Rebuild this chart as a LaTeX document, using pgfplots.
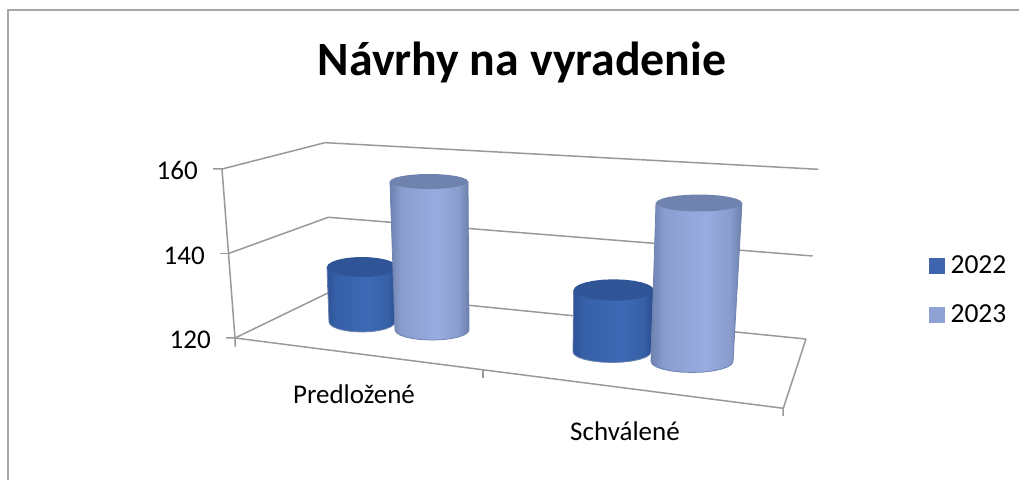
\documentclass[border=0pt]{standalone}
\usepackage{pgfplots}
\usepackage{pgfplotstable}
\usepackage{fontspec}
\setmainfont{Carlito}
\pgfplotsset{compat=1.18}
\definecolor{wall}{HTML}{999999}
\definecolor{framec}{HTML}{A6A6A6}
\definecolor{a0}{HTML}{2E5296}
\definecolor{a1}{HTML}{3660A8}
\definecolor{a2}{HTML}{3E69B5}
\definecolor{a3}{HTML}{355FA6}
\definecolor{a4}{HTML}{2A4C8C}
\definecolor{b0}{HTML}{6E82AF}
\definecolor{b1}{HTML}{8A9DCF}
\definecolor{b2}{HTML}{99ACE0}
\definecolor{b3}{HTML}{8A9DCE}
\definecolor{b4}{HTML}{6C80AC}
\definecolor{topA}{HTML}{2F5597}
\definecolor{topB}{HTML}{6F83AE}
\definecolor{legA}{HTML}{3F65AE}
\definecolor{legB}{HTML}{8FA2D4}
\pgfdeclarehorizontalshading{cylA}{100bp}{color(0bp)=(a0); color(25bp)=(a0); color(31bp)=(a1); color(55bp)=(a2); color(69bp)=(a3); color(75bp)=(a4); color(100bp)=(a4)}
\pgfdeclarehorizontalshading{cylB}{100bp}{color(0bp)=(b0); color(25bp)=(b0); color(32bp)=(b1); color(55bp)=(b2); color(68bp)=(b3); color(75bp)=(b4); color(100bp)=(b4)}

% outline of a cylinder wall: t=1 on the upper end, t=0 on the lower end
\pgfplotstableread{
u w t
-1 0 1
-1 0 0
-0.9659 -0.2588 0
-0.8660 -0.5 0
-0.7071 -0.7071 0
-0.5 -0.8660 0
-0.2588 -0.9659 0
0 -1 0
0.2588 -0.9659 0
0.5 -0.8660 0
0.7071 -0.7071 0
0.8660 -0.5 0
0.9659 -0.2588 0
1 0 0
1 0 1
}\cylbody
% outline of the upper end
\pgfplotstableread{
u w
-1 0
-0.9659 -0.2588
-0.8660 -0.5
-0.7071 -0.7071
-0.5 -0.8660
-0.2588 -0.9659
0 -1
0.2588 -0.9659
0.5 -0.8660
0.7071 -0.7071
0.8660 -0.5
0.9659 -0.2588
1 0
0.9659 0.2588
0.8660 0.5
0.7071 0.7071
0.5 0.8660
0.2588 0.9659
0 1
-0.2588 0.9659
-0.5 0.8660
-0.7071 0.7071
-0.8660 0.5
-0.9659 0.2588
-1 0
}\cyltop

% #1 shading #2 top colour; lower end: #3 cx #4 rx #5 y #6 ry; upper end: #7 cx #8 rx #9 value
\newcommand\cyl[9]{%
  \addplot[forget plot,draw=\edgec,line width=0.8bp,shade,shading=#1] table[
    x expr={\thisrow{t}*#7+(1-\thisrow{t})*#3+\thisrow{u}*(\thisrow{t}*#8+(1-\thisrow{t})*#4)},
    y expr={\thisrow{t}*#9+(1-\thisrow{t})*#5+\thisrow{w}*(1-\thisrow{t})*#6}]{\cylbody} -- cycle;
  \addplot[forget plot,draw=none,fill=#2] table[
    x expr={#7+\thisrow{u}*#8},
    y expr={#9+\thisrow{w}*\ryt}]{\cyltop} -- cycle;
}
\newcommand\ryt{2}
\newcommand\edgec{a0}
\newcommand\wl[1]{\addplot[forget plot,wall,line width=1.5bp] coordinates {#1};}

\begin{document}
\begin{tikzpicture}
\useasboundingbox (0,0) rectangle (1019bp,480bp);
\begin{axis}[
  scale only axis,width=1019bp,height=480bp,
  xmin=0,xmax=1019,ymin=86.39,ymax=200,
  axis lines=none,clip=false,
  legend cell align=left,
  legend style={at={(axis cs:929,131.37)},anchor=west,draw=none,fill=none,font=\fontsize{27.5bp}{27.5bp}\selectfont,row sep=26bp,inner sep=0pt},
  legend image code/.code={\fill[#1] (0bp,-7.5bp) rectangle (15bp,7.5bp);\path (19bp,0bp);},
]
\addlegendimage{legA}
\addlegendimage{legB}
% chart frame
\addplot[forget plot,framec,line width=1.4bp] coordinates {(8,86.39)(8,197.63)(1019,197.63)};
% walls and grid
\wl{(222,160)(325,166.23)(818.3,159.93)}
\wl{(228.5,140)(328.3,148.57)(812.7,139.41)}
\wl{(235,120)(331,131)(806,119.76)}
\wl{(213,160)(222,160)(228.5,140)(235,120)(235,117.94)}
\wl{(220,140)(228.5,140)}
\wl{(226,120)(235,120)(783.3,103.36)(806,119.76)}
\wl{(783.3,103.36)(783,101.54)}
\wl{(483,112.5)(483,110.53)}
% cylinders
\renewcommand\edgec{a0}
\renewcommand\ryt{2.37}
\cyl{cylA}{topA}{362}{33}{123.79}{2.37}{362}{35}{136.80}
\renewcommand\edgec{b0}
\renewcommand\ryt{1.78}
\cyl{cylB}{topB}{432}{37}{121.89}{2.37}{429}{39}{157.04}
\renewcommand\edgec{a0}
\renewcommand\ryt{2.53}
\cyl{cylA}{topA}{612}{39}{116.69}{2.49}{613.7}{40}{131.36}
\renewcommand\edgec{b0}
\renewcommand\ryt{2.01}
\cyl{cylB}{topB}{692}{41}{114.44}{2.60}{699}{43}{151.95}
\legend{2022,2023}
% text
\node[font=\bfseries\fontsize{47.8bp}{47.8bp}\selectfont] at (axis cs:522,185.3) {Návrhy na vyradenie};
\node[anchor=east,inner sep=0pt,font=\fontsize{27bp}{27bp}\selectfont] at (axis cs:198,159.6) {160};
\node[anchor=east,inner sep=0pt,font=\fontsize{27bp}{27bp}\selectfont] at (axis cs:205,139.4) {140};
\node[anchor=east,inner sep=0pt,font=\fontsize{27bp}{27bp}\selectfont] at (axis cs:211,119.6) {120};
\node[font=\fontsize{27bp}{27bp}\selectfont] at (axis cs:354,106.75) {Predložené};
\node[font=\fontsize{27bp}{27bp}\selectfont] at (axis cs:625,98.0) {Schválené};
\end{axis}
\end{tikzpicture}
\end{document}
